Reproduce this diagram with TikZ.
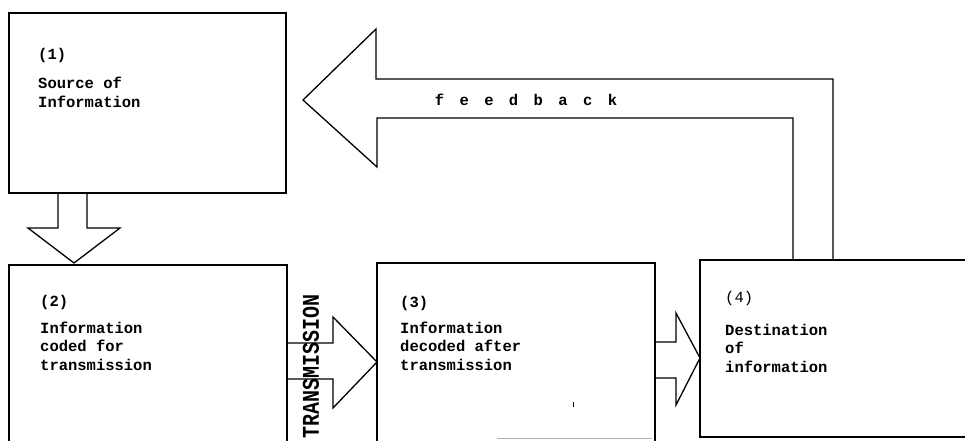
\documentclass[tikz,border=0pt]{standalone}
\usepackage{fontspec}
\setmonofont{Liberation Mono}
\newcommand{\fbgap}{\hspace{15.4pt}}
\begin{document}
\begin{tikzpicture}[x=1pt,y=-1pt,
  box/.style={line width=1.6pt, line join=miter},
  arr/.style={line width=1.3pt, line join=miter},
  txt/.style={anchor=base west, inner sep=0pt, font=\ttfamily\bfseries\fontsize{15.5}{18.5}\selectfont, align=left},
]
\useasboundingbox (0,0) rectangle (965,441);
% boxes
\draw[box] (9,13) rectangle (286,193);
\draw[box] (9,445) -- (9,265) -- (287,265) -- (287,445);
\draw[box] (377,445) -- (377,263) -- (655,263) -- (655,445);
\draw[gray!60, line width=1pt] (497,438) -- (652,438);
\draw[box] (975,260) -- (700,260) -- (700,437) -- (975,437);
% block arrows
\draw[arr] (58,193) -- (58,228) -- (28,228) -- (74,263) -- (120,228) -- (87,228) -- (87,193);
\draw[arr] (287,343) -- (333,343) -- (333,317) -- (377,362) -- (333,408) -- (333,379) -- (287,379);
\draw[arr] (655,342) -- (676,342) -- (676,313) -- (700,358) -- (676,405) -- (676,378) -- (655,378);
\draw[arr] (793,260) -- (793,118) -- (377,118) -- (377,167) -- (303,100) -- (376,29) -- (376,79) -- (833,79) -- (833,260);
\draw[line width=0.8pt] (573,402) -- (573,407);
% texts
\node[txt] (n1) at (38,60) {(1)};
\node[txt] (t1) at (38,107) {Source of\\Information};
\node[txt] (n2) at (40,306) {(2)};
\node[txt] (t2) at (40,370) {Information\\coded for\\transmission};
\node[txt] (n3) at (400,307) {(3)};
\node[txt] (t3) at (400,370) {Information\\decoded after\\transmission};
\node[txt, font=\ttfamily\fontsize{15.5}{18.5}\selectfont] (n4) at (725,302) {(4)};
\node[txt] (t4) at (725,372) {Destination\\of\\information};
\node[inner sep=0pt, font=\ttfamily\bfseries\fontsize{15.5}{18.5}\selectfont] (fb) at (526,100) {f\fbgap e\fbgap e\fbgap d\fbgap b\fbgap a\fbgap c\fbgap k};
\node[inner sep=0pt, rotate=90, font=\ttfamily\bfseries\fontsize{20}{22}\selectfont] (tr) at (311,366) {\scalebox{1}[1.2]{TRANSMISSION}};
\end{tikzpicture}
\end{document}
